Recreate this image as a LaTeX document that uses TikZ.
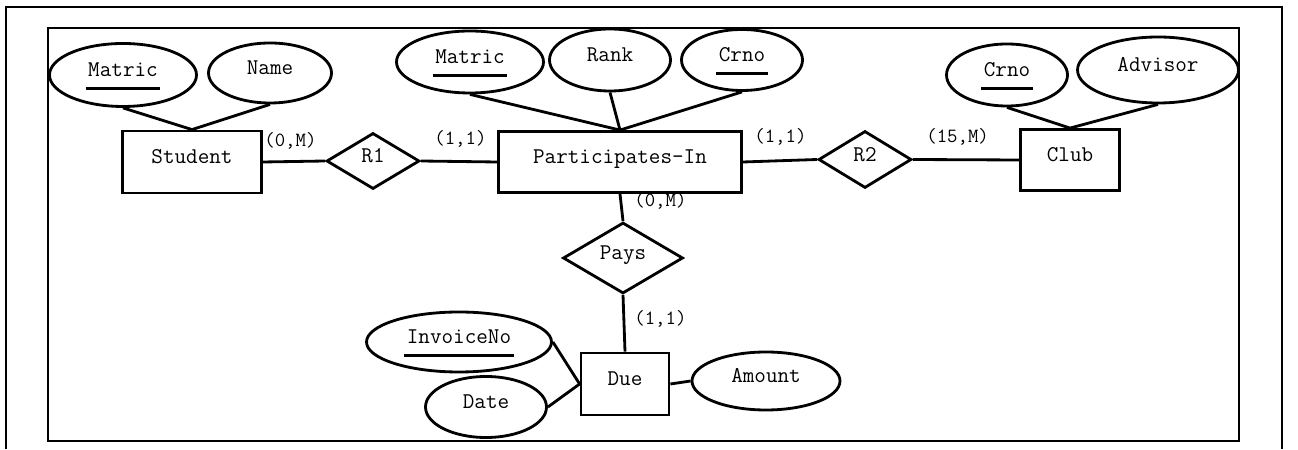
\documentclass[tikz,border=0pt]{standalone}
\usepackage{fontspec}
\usepackage{tikz}
\usetikzlibrary{shapes.geometric}

% underlined key attribute
\newcommand{\pk}[1]{\setbox0\hbox{#1}\rlap{\kern-1.5pt\vrule width\dimexpr\wd0+3pt\relax height-6.1pt depth7.7pt}\box0}

\begin{document}
\begin{tikzpicture}[
  font=\ttfamily\fontsize{12.8}{14}\selectfont,
  every node/.style={line width=1.6pt, inner sep=0pt, text height=8pt, text depth=6pt},
  entity/.style={draw, rectangle},
  attr/.style={draw, ellipse},
  rel/.style={draw, diamond},
  card/.style={anchor=west, font=\ttfamily\fontsize{11.5}{13}\selectfont, text height=7pt, text depth=2pt},
  link/.style={line width=1.6pt},
  frame/.style={line width=1.2pt}
]
\useasboundingbox (0,0) rectangle (25.96,8.98);

% Frames
\draw[frame] (0.12,0) -- (0.12,8.84) -- (25.64,8.84) -- (25.64,0);
\draw[frame] (0.96,0.16) rectangle (24.78,8.42);

% Student
\node[entity, minimum width=2.78cm, minimum height=1.24cm] (student) at (3.84,5.74) {Student};
\node[attr, minimum width=2.94cm, minimum height=1.26cm] (smatric) at (2.46,7.48) {\pk{Matric}};
\node[attr, minimum width=2.46cm, minimum height=1.20cm] (sname) at (5.40,7.52) {Name};

% Participates-In
\node[entity, minimum width=4.86cm, minimum height=1.22cm] (part) at (12.40,5.74) {Participates-In};
\node[attr, minimum width=2.94cm, minimum height=1.24cm] (pmatric) at (9.40,7.74) {\pk{Matric}};
\node[attr, minimum width=2.42cm, minimum height=1.24cm] (prank) at (12.20,7.78) {Rank};
\node[attr, minimum width=2.42cm, minimum height=1.22cm] (pcrno) at (14.84,7.78) {\pk{Crno}};

% Club
\node[entity, minimum width=1.98cm, minimum height=1.22cm] (club) at (21.40,5.78) {Club};
\node[attr, minimum width=2.42cm, minimum height=1.24cm] (ccrno) at (20.14,7.48) {\pk{Crno}};
\node[attr, minimum width=3.22cm, minimum height=1.32cm] (cadvisor) at (23.16,7.58) {Advisor};

% Due
\node[entity, minimum width=1.76cm, minimum height=1.24cm] (due) at (12.50,1.30) {Due};
\node[attr, minimum width=3.70cm, minimum height=1.20cm] (dinvoice) at (9.18,2.14) {\pk{InvoiceNo}};
\node[attr, minimum width=2.42cm, minimum height=1.22cm] (ddate) at (9.72,0.84) {Date};
\node[attr, minimum width=2.96cm, minimum height=1.16cm] (damount) at (15.32,1.36) {Amount};

% Relationships
\node[rel, minimum width=1.86cm, minimum height=1.12cm] (r1) at (7.46,5.76) {R1};
\node[rel, minimum width=1.86cm, minimum height=1.14cm] (r2) at (17.30,5.79) {R2};
\node[rel, minimum width=2.40cm, minimum height=1.40cm] (pays) at (12.46,3.82) {Pays};

% Attribute links
\draw[link] (smatric.south) -- (student.north);
\draw[link] (sname.south) -- (student.north);
\draw[link] (pmatric.south) -- (part.north);
\draw[link] (prank.south) -- (part.north);
\draw[link] (pcrno.south) -- (part.north);
\draw[link] (ccrno.south) -- (club.north);
\draw[link] (cadvisor.south) -- (club.north);
\draw[link] (dinvoice.east) -- (due.west);
\draw[link] (ddate.east) -- (due.west);
\draw[link] (due.east) -- (damount.west);

% Relationship links
\draw[link] (student.east) -- (r1.west);
\draw[link] (r1.east) -- (part.west);
\draw[link] (part.east) -- (r2.west);
\draw[link] (r2.east) -- (club.west);
\draw[link] (part.south) -- (pays.north);
\draw[link] (pays.south) -- (due.north);

% Cardinalities
\node[card] (c1) at (5.26,6.14) {(0,M)};
\node[card] (c2) at (8.66,6.18) {(1,1)};
\node[card] (c3) at (15.06,6.22) {(1,1)};
\node[card] (c4) at (18.50,6.22) {(15,M)};
\node[card] (c5) at (12.66,4.94) {(0,M)};
\node[card] (c6) at (12.66,2.58) {(1,1)};
\end{tikzpicture}
\end{document}
